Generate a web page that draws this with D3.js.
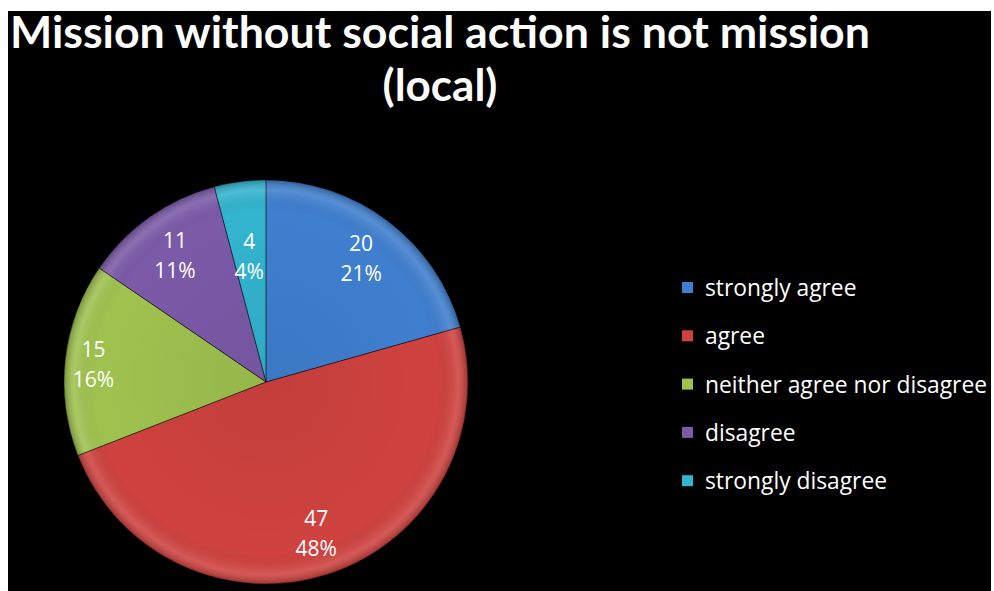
<!DOCTYPE html>
<html>
<head>
<meta charset="utf-8">
<script src="https://cdn.jsdelivr.net/npm/d3@7"></script>
<style>
  html, body { margin: 0; padding: 0; background: #ffffff; }
  svg { display: block; }
</style>
</head>
<body>
<svg id="chart" width="994" height="591"></svg>
<script>
// Survey responses
const categories = ["strongly agree", "agree", "neither agree nor disagree", "disagree", "strongly disagree"];
const counts = [20, 47, 15, 11, 4];
const percentLabels = ["21%", "48%", "16%", "11%", "4%"];
const colors = ["#3f7fcf", "#cf423f", "#9fc24f", "#7b5aa8", "#33b4cf"];
const titleLines = ["Mission without social action is not mission", "(local)"];

const svg = d3.select("#chart");
const H = 591;

// black chart area
svg.append("rect").attr("x", 8).attr("y", 11).attr("width", 983).attr("height", H - 11).attr("fill", "#000");

const defs = svg.append("defs");

// title
const titleFont = "Lato, 'Open Sans', sans-serif";
svg.append("text")
  .attr("x", 440).attr("y", 48)
  .attr("text-anchor", "middle")
  .attr("font-family", titleFont).attr("font-weight", 700)
  .attr("font-size", 44).attr("fill", "#fff")
  .attr("textLength", 860).attr("lengthAdjust", "spacingAndGlyphs")
  .text(titleLines[0]);
svg.append("text")
  .attr("x", 440).attr("y", 101)
  .attr("text-anchor", "middle")
  .attr("font-family", titleFont).attr("font-weight", 700)
  .attr("font-size", 44).attr("fill", "#fff")
  .text(titleLines[1]);

// pie
const cx = 266, cy = 382, R = 202;
const pie = d3.pie().value(d => d).sort(null).startAngle(0).endAngle(2 * Math.PI);
const arcs = pie(counts);
const arc = d3.arc().innerRadius(0).outerRadius(R);

const g = svg.append("g").attr("transform", `translate(${cx},${cy})`);

// shading gradient for a soft rounded look
const shade = defs.append("radialGradient").attr("id", "shade")
  .attr("gradientUnits", "userSpaceOnUse").attr("cx", 0).attr("cy", 0).attr("r", R);
shade.append("stop").attr("offset", "0%").attr("stop-color", "#000").attr("stop-opacity", 0.06);
shade.append("stop").attr("offset", "85%").attr("stop-color", "#000").attr("stop-opacity", 0.0);
shade.append("stop").attr("offset", "95%").attr("stop-color", "#fff").attr("stop-opacity", 0.12);
shade.append("stop").attr("offset", "100%").attr("stop-color", "#000").attr("stop-opacity", 0.25);

g.selectAll("path.slice").data(arcs).enter().append("path")
  .attr("class", "slice")
  .attr("d", arc)
  .attr("fill", (d, i) => colors[i]);

g.selectAll("path.shade").data(arcs).enter().append("path")
  .attr("class", "shade")
  .attr("d", arc)
  .attr("fill", "url(#shade)")
  .attr("stroke", "rgba(0,0,0,0.35)")
  .attr("stroke-width", 1);

// data labels: count and percentage; narrow slices get labels pulled inward
const labelPos = d => {
  const span = d.endAngle - d.startAngle;
  const r = span < 0.35 ? R * 0.64 : (span < 1.0 && Math.abs(Math.sin((d.startAngle + d.endAngle) / 2)) > 0.95 ? R * 0.86 : R * 0.78);
  return d3.arc().innerRadius(r).outerRadius(r).centroid(d);
};
const labels = g.selectAll("g.lbl").data(arcs).enter().append("g").attr("class", "lbl")
  .attr("transform", d => {
    const [x, y] = labelPos(d);
    return `translate(${x},${y})`;
  });
const labelFont = "'Open Sans', sans-serif";
labels.append("text")
  .attr("text-anchor", "middle").attr("y", -5)
  .attr("font-family", labelFont).attr("font-size", 21).attr("fill", "#fff")
  .text((d, i) => counts[i]);
labels.append("text")
  .attr("text-anchor", "middle").attr("y", 25)
  .attr("font-family", labelFont).attr("font-size", 21).attr("fill", "#fff")
  .text((d, i) => percentLabels[i]);

// legend
const legend = svg.append("g").attr("transform", "translate(682,288)");
const items = legend.selectAll("g").data(categories).enter().append("g")
  .attr("transform", (d, i) => `translate(0,${i * 48.3})`);
items.append("rect").attr("x", 0).attr("y", -6).attr("width", 11).attr("height", 11)
  .attr("fill", (d, i) => colors[i]);
items.append("text").attr("x", 23).attr("y", 8)
  .attr("font-family", labelFont).attr("font-size", 22.8).attr("fill", "#fff")
  .text(d => d);
</script>
</body>
</html>
